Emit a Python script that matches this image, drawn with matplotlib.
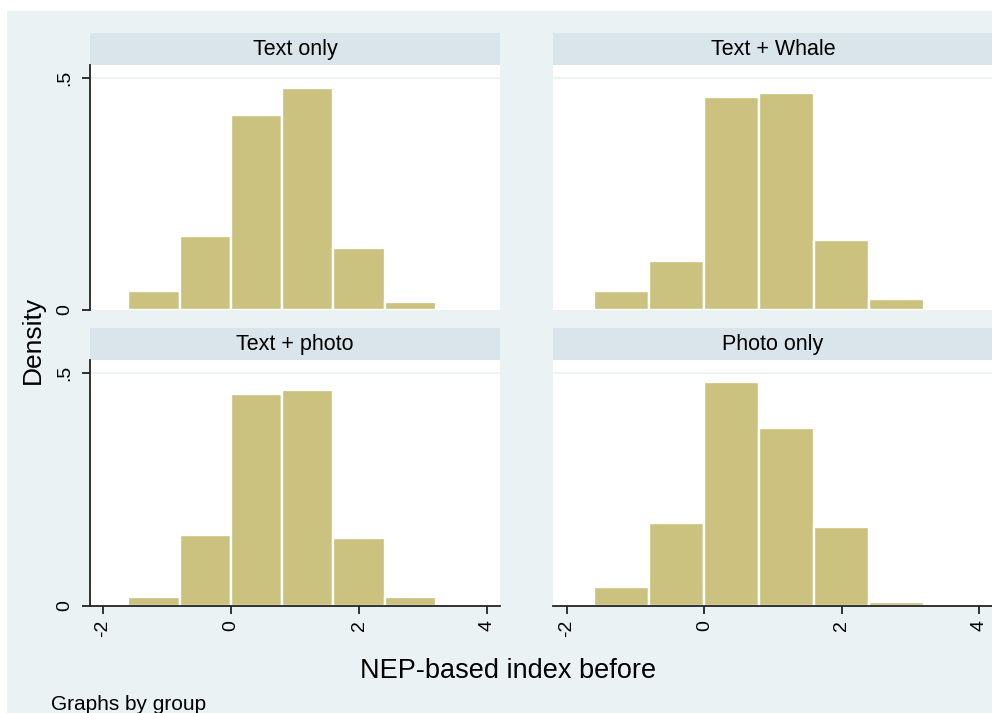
import matplotlib.pyplot as plt
import numpy as np
from matplotlib.patches import Rectangle

plt.rcParams['font.family'] = ['Liberation Sans', 'DejaVu Sans']

# histogram bins of the NEP-based index and the density per group
bin_edges = [-1.6, -0.8, 0.0, 0.8, 1.6, 2.4, 3.2]
groups = ['Text only', 'Text + Whale', 'Text + photo', 'Photo only']
dens_text_only = [0.041, 0.159, 0.420, 0.478, 0.134, 0.017]
dens_text_whale = [0.042, 0.106, 0.458, 0.468, 0.151, 0.023]
dens_text_photo = [0.019, 0.153, 0.455, 0.464, 0.145, 0.019]
dens_photo_only = [0.040, 0.178, 0.481, 0.382, 0.169, 0.009]

x_ticks = [-2, 0, 2, 4]
x_tick_labels = ['-2', '0', '2', '4']
y_ticks = [0, 0.5]
y_tick_labels = ['0', '.5']

W, H = 992, 713
BG = '#eaf2f3'
STRIP = '#d9e5ea'
BAR = '#cac27e'


def px_axes(fig, x0, y0, x1, y1):
    # place axes using pixel box (top-left origin)
    return fig.add_axes([x0 / W, 1 - y1 / H, (x1 - x0) / W, (y1 - y0) / H])


fig = plt.figure(figsize=(W / 100, H / 100), dpi=100, facecolor='white')
fig.patches.append(Rectangle((7 / W, 0), 1, 1 - 11 / H, transform=fig.transFigure,
                             facecolor=BG, edgecolor='none', zorder=-5))

all_dens = [dens_text_only, dens_text_whale, dens_text_photo, dens_photo_only]
boxes = [(90, 65, 500, 310), (553, 65, 993, 310),
         (90, 360, 500, 606), (553, 360, 993, 606)]

edges = np.array(bin_edges)
for i, (name, dens, box) in enumerate(zip(groups, all_dens, boxes)):
    x0, y0, x1, y1 = box
    left_col = i % 2 == 0
    bottom_row = i >= 2

    # strip with the group name
    sax = px_axes(fig, x0, y0 - 32, x1, y0)
    sax.set_facecolor(STRIP)
    sax.set_xticks([])
    sax.set_yticks([])
    for s in sax.spines.values():
        s.set_visible(False)
    sax.text(0.5, 0.47, name, ha='center', va='center', fontsize=15.5,
             transform=sax.transAxes)

    ax = px_axes(fig, x0, y0, x1, y1)
    ax.set_facecolor('white')
    ax.bar(edges[:-1], dens, width=np.diff(edges), align='edge',
           color=BAR, edgecolor='white', linewidth=1.7, zorder=2)
    ax.axhline(0.5, color=BG, lw=1.2, zorder=1)
    ax.set_xlim(-2.2, 4.2)
    ax.set_ylim(0, 0.528)

    for s in ['top', 'right']:
        ax.spines[s].set_visible(False)
    ax.spines['left'].set_visible(left_col)
    ax.spines['bottom'].set_visible(bottom_row)
    for s in ['left', 'bottom']:
        ax.spines[s].set_color('#222222')
        ax.spines[s].set_linewidth(1.3)

    if left_col:
        ax.set_yticks(y_ticks)
        ax.set_yticklabels(y_tick_labels, rotation=90, va='center', fontsize=14)
        ax.tick_params(axis='y', length=6, width=1.3, color='#222222', pad=6)
    else:
        ax.set_yticks([])

    if bottom_row:
        ax.set_xticks(x_ticks)
        ax.set_xticklabels(x_tick_labels, rotation=90, fontsize=14)
        ax.tick_params(axis='x', length=6, width=1.3, color='#222222', pad=4)
    else:
        ax.set_xticks([])

fig.text(33 / W, 1 - 340 / H, 'Density', rotation=90, ha='center', va='center',
         fontsize=19)
fig.text(508 / W, 1 - 671 / H, 'NEP-based index before', ha='center',
         va='center', fontsize=19.5)
fig.text(51 / W, 1 - 704 / H, 'Graphs by group', ha='left', va='center',
         fontsize=15)

fig.savefig('out.png', dpi=100)
